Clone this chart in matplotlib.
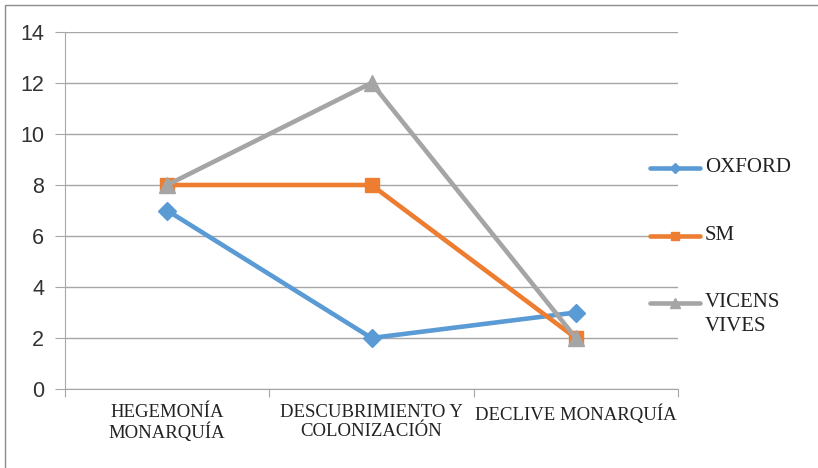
import matplotlib.pyplot as plt
from matplotlib.patches import Rectangle
from matplotlib.lines import Line2D

categories = ['HEGEMONÍA\nMONARQUÍA', 'DESCUBRIMIENTO Y\nCOLONIZACIÓN', 'DECLIVE MONARQUÍA']
oxford = [7, 2, 3]
sm = [8, 8, 2]
vicens = [8, 12, 2]
series_names = ['OXFORD', 'SM', 'VICENS\nVIVES']

W, H = 818, 468
fig = plt.figure(figsize=(W / 100, H / 100), dpi=100)
ax = fig.add_axes([65 / W, 1 - 389 / H, (678 - 65) / W, (389 - 32) / H])

x = list(range(len(categories)))
styles = [
    (oxford, '#5B9BD5', 'D', 9),
    (sm, '#ED7D31', 's', 10),
    (vicens, '#A5A5A5', '^', 11),
]
for vals, col, mk, ms in styles:
    ax.plot(x, vals, color=col, lw=3.3, marker=mk, markersize=ms,
            solid_capstyle='round', zorder=3)

ax.set_xlim(-0.5, 2.5)
ax.set_ylim(0, 14)
ax.set_yticks(range(0, 15, 2))
ax.yaxis.grid(True, color='#A6A6A6', lw=1)
ax.set_axisbelow(True)
for s in ['top', 'right']:
    ax.spines[s].set_visible(False)
ax.spines['left'].set_color('#A6A6A6')
ax.spines['bottom'].set_color('#A6A6A6')
ax.tick_params(axis='y', length=7, color='#A6A6A6', labelsize=15.5, pad=8)
for t in ax.get_yticklabels():
    t.set_fontfamily('Liberation Sans')
    t.set_color('#333333')

ax.set_xticks([-0.5, 0.5, 1.5, 2.5])
ax.set_xticklabels([])
ax.set_xticks(x, minor=True)
ax.set_xticklabels(categories, minor=True, fontfamily='Liberation Serif',
                   fontsize=13.5, color='#222222', linespacing=1.1)
ax.tick_params(axis='x', which='major', length=6, color='#A6A6A6')
ax.tick_params(axis='x', which='minor', length=0, pad=11)

# legend drawn by hand so the two-line entry lines up like the original
leg_y = [168, 236, 303]
for (_, col, mk, ms), name, yy in zip(styles, series_names, leg_y):
    fy = 1 - yy / H
    fig.add_artist(Line2D([650 / W, 700 / W], [fy, fy], color=col, lw=3.3,
                          solid_capstyle='round', transform=fig.transFigure))
    fig.add_artist(Line2D([675 / W], [fy], color=col, marker=mk,
                          markersize=ms * 0.6, transform=fig.transFigure))
    fig.text(705 / W, fy + 10 / H, name, ha='left', va='top',
             fontfamily='Liberation Serif', fontsize=15, color='#222222',
             linespacing=1.35)

fig.patches.append(Rectangle((5 / W, -0.01), 1.0, 1 - 5 / H + 0.01,
                             transform=fig.transFigure, fill=False,
                             edgecolor='#8C8C8C', lw=1))

fig.savefig('out.png', dpi=100)
